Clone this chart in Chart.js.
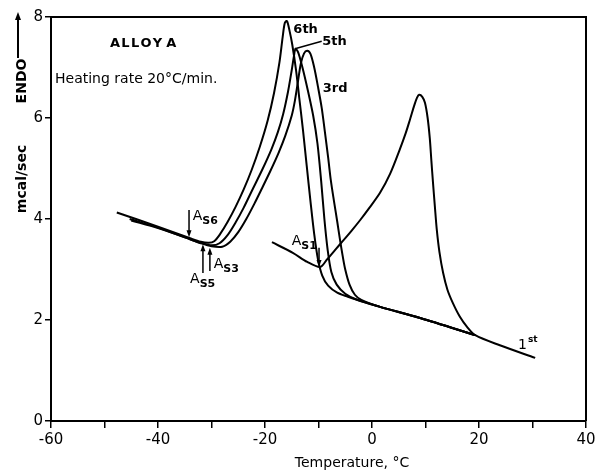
<!DOCTYPE html>
<html>
<head>
<meta charset="utf-8">
<script src="https://cdn.jsdelivr.net/npm/chart.js@4"></script>
<style>
html,body{margin:0;padding:0;background:#fff;}
canvas{display:block;}
</style>
</head>
<body>
<canvas id="c" width="600" height="474" style="width:600px;height:474px"></canvas>
<script>
// ---- Data (temperature °C, heat flow mcal/sec) ----
const sixthT = [-47.7,-40,-34,-32,-30.5,-29.5,-28.4,-27,-25.5,-24,-22.5,-21,-19.5,-18.3,-17.3,-16.7,-16.3,-15.9,-15.4,-14.9,-14.2,-13.6,-12.9,-12.2,-11.5,-10.8,-10.1,-9.3,-8.2,-6.5,-4.5,-2.8,1.5,9,19.3];
const sixthY = [4.13,3.85,3.62,3.55,3.53,3.56,3.70,3.94,4.24,4.58,4.97,5.42,5.95,6.50,7.10,7.60,7.88,7.92,7.72,7.45,6.95,6.40,5.76,5.05,4.35,3.70,3.20,2.88,2.68,2.54,2.46,2.40,2.26,2.04,1.70];

const fifthT = [-45.3,-40,-34,-32,-30,-28.5,-27,-25.5,-24,-22.4,-20.5,-18.8,-17.6,-16.6,-15.7,-15.0,-14.6,-14.3,-13.8,-13.0,-12.0,-11.0,-10.2,-9.5,-8.9,-8.3,-7.6,-6.6,-5.0,-2.8,1.5,9,19.3];
const fifthY = [4.00,3.83,3.60,3.53,3.48,3.52,3.68,3.93,4.22,4.57,4.98,5.38,5.72,6.08,6.52,6.95,7.22,7.37,7.30,7.00,6.55,6.05,5.50,4.75,4.00,3.40,2.95,2.70,2.52,2.40,2.26,2.04,1.70];

const thirdT = [-45,-40,-34,-32,-30,-28,-26.5,-25,-23.5,-22,-20.6,-19,-17.5,-16.2,-15.0,-14.4,-13.8,-13.3,-12.7,-12.1,-11.5,-10.8,-10.1,-9.4,-8.8,-8.2,-7.7,-7.1,-6.5,-6.0,-5.5,-5.0,-4.2,-3.2,-2.0,1.5,9,19.3];
const thirdY = [3.97,3.82,3.60,3.52,3.46,3.45,3.55,3.74,4.00,4.30,4.60,4.95,5.30,5.65,6.05,6.35,6.75,7.08,7.28,7.33,7.27,7.00,6.62,6.20,5.72,5.22,4.77,4.35,3.95,3.60,3.28,3.00,2.70,2.50,2.40,2.26,2.04,1.70];

const firstT = [-18.7,-14.8,-12.1,-9.7,-8.4,-6.8,-5.4,-3.8,-2.2,-0.5,1.5,3.4,5.2,6.3,7.1,7.9,8.4,8.8,9.4,9.9,10.4,10.8,11.1,11.4,11.75,12.1,12.6,13.3,14.1,15.1,16.4,17.8,19.3,23.9,30.5];
const firstY = [3.54,3.33,3.15,3.05,3.20,3.40,3.57,3.77,3.98,4.22,4.52,4.90,5.38,5.70,5.97,6.25,6.40,6.46,6.42,6.30,6.00,5.60,5.15,4.72,4.25,3.80,3.35,2.93,2.60,2.34,2.07,1.86,1.70,1.50,1.25];

// x ticks every 10, labelled every 20
const xMin = -60, xMax = 40, xStep = 10;
const yMin = 0, yMax = 8, yStep = 2;

// A_s arrows: x, tail y, tip y
const arrowX    = [-34.2, -31.6, -30.3, -9.9];
const arrowTail = [4.18, 2.93, 2.97, 3.43];
const arrowTip  = [3.64, 3.50, 3.43, 3.05];

// A_s labels: subscript text, left x, baseline y
const asSub = ['S6','S5','S3','S1'];
const asX   = [-33.5, -34.0, -29.6, -15.0];
const asY   = [3.98, 2.73, 3.03, 3.49];

// cycle labels
const cycText = ['6th','5th','3rd'];
const cycX = [-14.7, -9.3, -9.2];
const cycY = [7.68, 7.45, 6.51];
const leader5X = [-14.4, -9.4];
const leader5Y = [7.37, 7.52];
const firstLabelX = 27.3, firstLabelY = 1.42;

const FONT = '"DejaVu Sans", sans-serif';

function pts(t, y){ return t.map((v,i)=>({x:v, y:y[i]})); }
function ds(t, y){
  return {data: pts(t,y), showLine:true, borderColor:'#000', borderWidth:2,
          pointRadius:0, tension:0.3, fill:false};
}

const annot = {
  id:'annot',
  afterDraw(chart){
    const c = chart.ctx, xs = chart.scales.x, ys = chart.scales.y, a = chart.chartArea;
    const X = v=>xs.getPixelForValue(v), Y = v=>ys.getPixelForValue(v);
    c.save();
    c.strokeStyle='#000'; c.fillStyle='#000';
    // frame (top + right)
    c.lineWidth=2;
    c.beginPath(); c.moveTo(a.left,a.top); c.lineTo(a.right,a.top); c.lineTo(a.right,a.bottom); c.stroke();
    // arrows
    c.lineWidth=1.5;
    for(let i=0;i<arrowX.length;i++){
      const px=X(arrowX[i]), t=Y(arrowTail[i]), h=Y(arrowTip[i]);
      const dir = h>t?1:-1;
      c.beginPath(); c.moveTo(px,t); c.lineTo(px,h-dir*5); c.stroke();
      c.beginPath(); c.moveTo(px,h); c.lineTo(px-2.5,h-dir*7); c.lineTo(px+2.5,h-dir*7); c.closePath(); c.fill();
    }
    // A_s labels
    for(let i=0;i<asSub.length;i++){
      const px=X(asX[i]), py=Y(asY[i]);
      c.font='14px '+FONT; c.textAlign='left'; c.textBaseline='alphabetic';
      c.fillText('A',px,py);
      const w=c.measureText('A').width;
      c.font='bold 11px '+FONT;
      c.fillText(asSub[i],px+w,py+4);
    }
    // cycle labels
    c.font='bold 13px '+FONT; c.textAlign='left'; c.textBaseline='alphabetic';
    for(let i=0;i<cycText.length;i++) c.fillText(cycText[i],X(cycX[i]),Y(cycY[i]));
    c.lineWidth=1.5;
    c.beginPath(); c.moveTo(X(leader5X[0]),Y(leader5Y[0])); c.lineTo(X(leader5X[1]),Y(leader5Y[1])); c.stroke();
    // 1st
    c.font='14px '+FONT;
    c.fillText('1',X(firstLabelX),Y(firstLabelY));
    const w1=c.measureText('1').width;
    c.font='bold 9px '+FONT;
    c.fillText('st',X(firstLabelX)+w1+1,Y(firstLabelY)-7);
    // texts
    c.font='bold 13px '+FONT;
    c.fillText('A L L O Y   A'.replace(/ /g,'\u200A'),110,47);
    c.font='14px '+FONT;
    c.fillText('Heating rate 20\u00B0C/min.',55,83);
    // x title
    c.font='14px '+FONT; c.textAlign='center';
    c.fillText('Temperature, \u00B0C',352,467);
    // y titles (rotated)
    c.save();
    c.translate(22,179); c.rotate(-Math.PI/2);
    c.font='bold 14px '+FONT; c.textAlign='center'; c.textBaseline='middle';
    c.fillText('mcal/sec',0,0);
    c.restore();
    c.save();
    c.translate(22,81); c.rotate(-Math.PI/2);
    c.font='bold 14px '+FONT; c.textAlign='center'; c.textBaseline='middle';
    c.fillText('ENDO',0,0);
    c.restore();
    c.lineWidth=2;
    c.beginPath(); c.moveTo(18,58); c.lineTo(18,18); c.stroke();
    c.beginPath(); c.moveTo(18,12); c.lineTo(15,20); c.lineTo(21,20); c.closePath(); c.fill();
    c.restore();
  }
};

new Chart(document.getElementById('c'), {
  type:'scatter',
  data:{datasets:[ds(sixthT,sixthY), ds(fifthT,fifthY), ds(thirdT,thirdY), ds(firstT,firstY)]},
  options:{
    responsive:false, animation:false,
    layout:{padding:{left:0,right:14,top:17,bottom:0}},
    plugins:{legend:{display:false}, tooltip:{enabled:false}},
    scales:{
      x:{type:'linear', min:xMin, max:xMax,
         afterFit(s){ s.height=53; },
         border:{display:true,color:'#000',width:2},
         grid:{drawOnChartArea:false, drawTicks:true, tickLength:7, color:'#000', lineWidth:1.5},
         ticks:{stepSize:xStep, color:'#000', font:{family:FONT,size:15}, padding:3, maxRotation:0,
                callback:v=> (v%20===0 ? String(v) : '')}},
      y:{type:'linear', min:yMin, max:yMax,
         afterFit(s){ s.width=51; },
         border:{display:true,color:'#000',width:2},
         grid:{drawOnChartArea:false, drawTicks:true, tickLength:6, color:'#000', lineWidth:1.5},
         ticks:{stepSize:yStep, color:'#000', font:{family:FONT,size:15}, padding:2}}
    }
  },
  plugins:[annot]
});
</script>
</body>
</html>
